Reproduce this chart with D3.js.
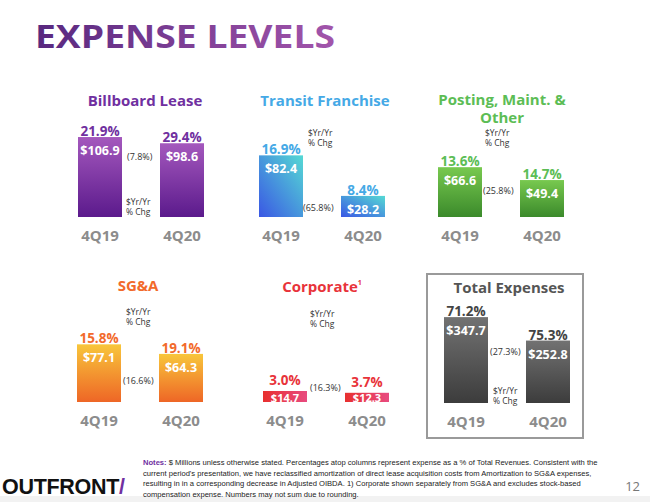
<!DOCTYPE html>
<html>
<head>
<meta charset="utf-8">
<script src="https://cdn.jsdelivr.net/npm/d3@7"></script>
<style>
  body { margin: 0; background: #fff; }
  svg { display: block; font-family: "Open Sans", "Liberation Sans", sans-serif; }
</style>
</head>
<body>
<div id="chart"></div>
<script>
const periods = ["4Q19", "4Q20"]
const segments = ["Billboard Lease", "Transit Franchise", "Posting, Maint. & Other", "SG&A", "Corporate", "Total Expenses"]
const values4Q19 = [106.9, 82.4, 66.6, 77.1, 14.7, 347.7]
const values4Q20 = [98.6, 28.2, 49.4, 64.3, 12.3, 252.8]
const pctRev4Q19 = ["21.9%", "16.9%", "13.6%", "15.8%", "3.0%", "71.2%"]
const pctRev4Q20 = ["29.4%", "8.4%", "14.7%", "19.1%", "3.7%", "75.3%"]
const yoyChg = ["(7.8%)", "(65.8%)", "(25.8%)", "(16.6%)", "(16.3%)", "(27.3%)"]

// panel layout: origin = left of first bar / baseline
const panels = [
	{ x: 78, y: 217, title: ["Billboard Lease"], tx: 145, ty: 106, color: "#7030a0", grad: ["#a458bd", "#5b1a8c"], dir: [0, 0, 0, 1], yoy: [49, -57], note: [48, -12] },
	{ x: 259, y: 217, title: ["Transit Franchise"], tx: 325, ty: 106, color: "#45a9e6", grad: ["#55d9d4", "#3a57e4"], dir: [1, 0, 0, 1], yoy: [44, -6], note: [49, -81] },
	{ x: 438, y: 217, title: ["Posting, Maint. &", "Other"], tx: 502, ty: 105, color: "#5cbd55", grad: ["#78c94f", "#3b8a2b"], dir: [0, 0, 0, 1], yoy: [45, -23], note: [47, -81] },
	{ x: 77, y: 402, title: ["SG&A"], tx: 138, ty: 291, color: "#f26a2b", grad: ["#f8c63b", "#ee6626"], dir: [0, 0, 0, 1], yoy: [46, -18], note: [49, -87] },
	{ x: 263, y: 402, title: ["Corporate"], tx: 322, ty: 292, color: "#e8333a", grad: ["#e8302f", "#e84b80"], dir: [0, 0, 1, 0], yoy: [47, -11], note: [47, -85], sup: true },
	{ x: 444, y: 403, title: ["Total Expenses"], tx: 509, ty: 293, color: "#555", grad: ["#727272", "#3c3c3c"], dir: [0, 0, 0, 1], yoy: [46, -48], note: [49, -9], pctColor: "#444" },
]

const width = 650, height = 502
const svg = d3.select("#chart").append("svg").attr("width", width).attr("height", height)
const defs = svg.append("defs")

// title gradient
const tg = defs.append("linearGradient").attr("id", "titleGrad").attr("x1", 0).attr("x2", 1).attr("y1", 0).attr("y2", 0)
tg.append("stop").attr("offset", 0).attr("stop-color", "#58287f")
tg.append("stop").attr("offset", 1).attr("stop-color", "#a255ab")

svg.append("text")
	.attr("x", 35).attr("y", 48)
	.attr("fill", "url(#titleGrad)")
	.attr("textLength", 300).attr("lengthAdjust", "spacingAndGlyphs")
	.style("font-size", "33px").style("font-weight", 700)
	.text("EXPENSE LEVELS")

// scales: segment panels share one scale, total gets its own
const ySeg = d3.scaleLinear().domain([0, 100]).range([0, 74.8])
const yTot = d3.scaleLinear().domain([0, 100]).range([0, 24.7])
const x = d3.scaleBand().domain(periods).range([0, 126]).paddingInner(0.4634).paddingOuter(0)

// total box
svg.append("rect").attr("x", 427).attr("y", 274).attr("width", 156).attr("height", 164)
	.attr("fill", "none").attr("stroke", "#9a9a9a").attr("stroke-width", 2)

panels.forEach((p, i) => {
	const yScale = i === 5 ? yTot : ySeg
	const gid = "grad" + i
	const lg = defs.append("linearGradient").attr("id", gid)
		.attr("x1", p.dir[0]).attr("y1", p.dir[1]).attr("x2", p.dir[2]).attr("y2", p.dir[3])
	lg.append("stop").attr("offset", 0).attr("stop-color", p.grad[0])
	lg.append("stop").attr("offset", 1).attr("stop-color", p.grad[1])

	const rows = periods.map((per, j) => ({
		period: per,
		value: j === 0 ? values4Q19[i] : values4Q20[i],
		pct: j === 0 ? pctRev4Q19[i] : pctRev4Q20[i],
	}))

	const g = svg.append("g").attr("transform", `translate(${p.x},${p.y})`)

	g.selectAll("rect.bar")
		.data(rows)
		.enter()
		.append("rect")
		.attr("class", "bar")
		.attr("x", d => x(d.period))
		.attr("y", d => -yScale(d.value))
		.attr("width", x.bandwidth())
		.attr("height", d => yScale(d.value))
		.attr("fill", `url(#${gid})`)

	// short bars push the % label up a little so it clears the $ label
	g.selectAll("text.pct")
		.data(rows)
		.enter()
		.append("text")
		.attr("x", d => x(d.period) + x.bandwidth() / 2)
		.attr("y", d => -yScale(d.value) - (yScale(d.value) < 20 ? 6 : 1))
		.attr("text-anchor", "middle")
		.attr("fill", p.pctColor || p.color)
		.style("font-size", "13.5px").style("font-weight", 700)
		.text(d => d.pct)

	g.selectAll("text.val")
		.data(rows)
		.enter()
		.append("text")
		.attr("x", d => x(d.period) + x.bandwidth() / 2)
		.attr("y", d => Math.min(-yScale(d.value) + 18, 0))
		.attr("text-anchor", "middle")
		.attr("fill", "#fff")
		.style("font-size", d => yScale(d.value) < 20 ? "11px" : "12.5px").style("font-weight", 700)
		.text(d => "$" + d3.format(".1f")(d.value))

	g.selectAll("text.cat")
		.data(rows)
		.enter()
		.append("text")
		.attr("x", d => x(d.period) + x.bandwidth() / 2)
		.attr("y", 24)
		.attr("text-anchor", "middle")
		.attr("fill", "#8c8c8c")
		.style("font-size", "15px").style("font-weight", 700)
		.text(d => d.period)

	g.append("text")
		.attr("x", p.yoy[0]).attr("y", p.yoy[1])
		.attr("fill", "#333")
		.style("font-size", "9px")
		.text(yoyChg[i])

	g.selectAll("text.note")
		.data(["$Yr/Yr", "% Chg"])
		.enter()
		.append("text")
		.attr("x", p.note[0])
		.attr("y", (d, k) => p.note[1] + k * 9.5)
		.attr("fill", "#333")
		.style("font-size", "8.5px")
		.text(d => d)

	const title = svg.append("text")
		.attr("x", p.tx).attr("y", p.ty)
		.attr("text-anchor", "middle")
		.attr("fill", p.color)
		.style("font-size", "15px").style("font-weight", 700)
	title.selectAll("tspan")
		.data(p.title)
		.enter()
		.append("tspan")
		.attr("x", p.tx)
		.attr("dy", (d, k) => k === 0 ? 0 : 18)
		.text(d => d)
	if (p.sup) {
		title.append("tspan").attr("dy", -7).style("font-size", "7px").text("1")
	}
})

// footer
svg.append("rect").attr("x", 0).attr("y", 496).attr("width", width).attr("height", 6).attr("fill", "#f2f2f2")

const logo = svg.append("text")
	.attr("x", 2).attr("y", 494)
	.style("font-family", "'Liberation Sans', Arial, sans-serif")
	.style("font-size", "21.5px").style("font-weight", 700).style("letter-spacing", "-0.3px")
logo.append("tspan").attr("fill", "#111").text("OUTFRONT")
logo.append("tspan").attr("fill", "#7030a0").text("/")

const noteLines = [
	"current period's presentation, we have reclassified amortization of direct lease acquisition costs from Amortization to SG&A expenses,",
	"resulting in in a corresponding decrease in Adjusted OIBDA. 1) Corporate shown separately from SG&A and excludes stock-based",
	"compensation expense. Numbers may not sum due to rounding.",
]
const notes = svg.append("text")
	.attr("x", 143).attr("y", 465)
	.style("font-family", "'Liberation Sans', Arial, sans-serif")
	.style("font-size", "7.6px")
	.attr("fill", "#222")
notes.append("tspan").attr("fill", "#7030a0").style("font-weight", 700).text("Notes:")
notes.append("tspan").text("  $ Millions unless otherwise stated.  Percentages atop columns represent expense as a % of Total Revenues. Consistent with the")
svg.selectAll("text.noteline")
	.data(noteLines)
	.enter()
	.append("text")
	.attr("x", 143)
	.attr("y", (d, k) => 475.5 + k * 10.5)
	.style("font-family", "'Liberation Sans', Arial, sans-serif")
	.style("font-size", "7.6px")
	.attr("fill", "#222")
	.text(d => d)

svg.append("text")
	.attr("x", 640).attr("y", 491)
	.attr("text-anchor", "end")
	.attr("fill", "#777")
	.style("font-size", "13px")
	.text("12")
</script>
</body>
</html>
